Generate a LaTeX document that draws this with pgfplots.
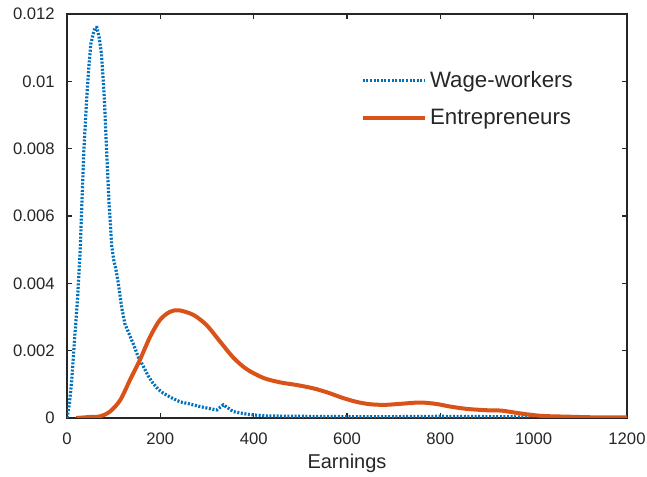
\documentclass[border=0pt]{standalone}
\usepackage{fontspec}
\setmainfont{Liberation Sans}
\usepackage{pgfplots}
\pgfplotsset{compat=1.18}
\definecolor{mblue}{rgb}{0,0.447,0.741}
\definecolor{morange}{rgb}{0.85,0.325,0.098}
\definecolor{axc}{rgb}{0.15,0.15,0.15}
\begin{document}
\begin{tikzpicture}
\begin{axis}[name=ax, at={(0pt,0pt)}, anchor=south west,
 width=420pt, height=303pt, scale only axis,
 xmin=0, xmax=1200, ymin=0, ymax=0.012,
 xtick={0,200,400,600,800,1000,1200},
 xticklabels={0,200,400,600,800,1000,1200},
 ytick={0,0.002,0.004,0.006,0.008,0.01,0.012},
 yticklabels={0,0.002,0.004,0.006,0.008,0.01,0.012},
 scaled y ticks=false,
 tick align=inside, major tick length=3.4pt,
 axis line style={axc, line width=0.8pt},
 every tick/.style={axc, line width=0.8pt},
 tick label style={font=\fontsize{12.5}{14}\selectfont, text=axc},
 xticklabel style={anchor=base, yshift=-20pt},
 yticklabel style={anchor=east, inner sep=0pt, xshift=-9pt},
 xlabel={Earnings},
 xlabel style={font=\fontsize{15}{17}\selectfont, text=axc, at={(axis description cs:0.5,0)}, anchor=base, yshift=-38pt},
 legend style={draw=none, fill=none, inner sep=0pt, at={(axis description cs:0.524,0.79)}, anchor=west,
   font=\fontsize{16.7}{19}\selectfont, text=axc, row sep=11pt, legend cell align=left},
 legend image code/.code={\draw[#1] (0pt,0pt) -- (47pt,0pt);},
]
\addplot[color=mblue, line width=2.4pt, dash pattern=on 1.5pt off 1.2pt] coordinates {
(0,0) (5,0.0004) (10,0.0011) (17,0.0025) (22,0.0034) (28,0.0049) (32,0.0064) (36,0.0079)
(41,0.0092) (46,0.0103) (51,0.0111) (56,0.0114) (60,0.0116) (64,0.0116) (69,0.0113)
(74,0.0108) (80,0.0095) (85,0.0079) (90,0.0064) (96,0.0051) (100,0.0047) (105,0.0044)
(110,0.0040) (117,0.0033) (124,0.0028) (133,0.0025) (142,0.0022) (153,0.0018) (164,0.00152)
(174,0.00125) (184,0.00104) (195,0.00086) (206,0.00074) (224,0.00060) (242,0.00048)
(262,0.00042) (285,0.00034) (305,0.00028) (321,0.00024) (335,0.00039) (345,0.00030)
(356,0.00019) (371,0.00015) (392,0.00010) (428,0.00006) (500,0.00005) (600,0.00004)
(700,0.00004) (800,0.00005) (900,0.00004) (1000,0.00003)
};
\addlegendentry{Wage-workers}
\addplot[color=morange, line width=3pt, smooth] coordinates {
(20,0) (49,0.00003) (71,0.00005) (92,0.00019) (114,0.00053) (135,0.00113) (156,0.00172)
(178,0.00241) (199,0.00291) (220,0.00315) (240,0.0032) (271,0.00306) (299,0.00276)
(328,0.00227) (356,0.00180) (385,0.00145) (421,0.00119) (456,0.00106) (492,0.00098)
(528,0.00088) (560,0.00075) (590,0.00060) (620,0.00048) (649,0.00041) (680,0.00039)
(714,0.00042) (756,0.00046) (790,0.00042) (821,0.00034) (857,0.00027) (900,0.00023)
(930,0.00022) (960,0.00016) (985,0.00011) (1020,0.00006) (1071,0.00004) (1130,0.00002)
(1200,0.00002)
};
\addlegendentry{Entrepreneurs}
\end{axis}
\pgfresetboundingbox
\path[use as bounding box] (-50.25pt,-44.25pt) rectangle (435pt,313.5pt);
\end{tikzpicture}
\end{document}
